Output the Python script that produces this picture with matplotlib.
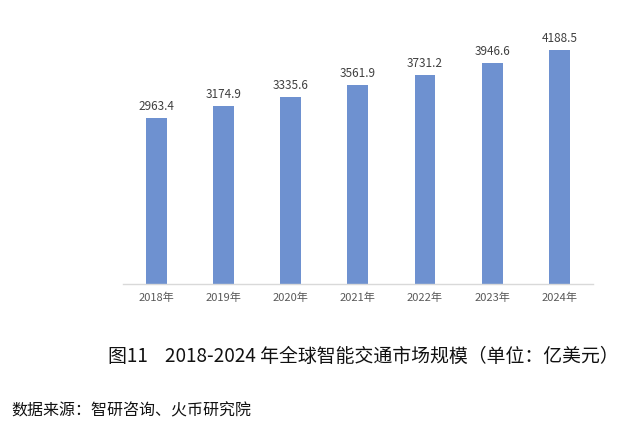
import matplotlib
matplotlib.use("Agg")
import matplotlib.pyplot as plt

plt.rcParams['font.family'] = ['Noto Sans CJK SC', 'DejaVu Sans']

years = ["2018年", "2019年", "2020年", "2021年", "2022年", "2023年", "2024年"]
values = [2963.4, 3174.9, 3335.6, 3561.9, 3731.2, 3946.6, 4188.5]
caption = "图11    2018-2024 年全球智能交通市场规模（单位：亿美元）"
source = "数据来源：智研咨询、火币研究院"

fig = plt.figure(figsize=(6.3, 4.28), dpi=100)
ax = fig.add_axes([0.195, 0.336, 0.746, 0.589])

x = list(range(len(years)))
ax.bar(x, values, width=0.31, color="#6E91D0", zorder=2)
for xi, v in zip(x, values):
    ax.text(xi, v + 90, f"{v:.1f}", ha="center", va="bottom", fontsize=8.5, color="#404040")

ax.set_xlim(-0.5, len(years) - 0.5)
ax.set_ylim(0, 4500)
ax.set_xticks(x)
ax.set_xticklabels(years, fontsize=8, color="#595959")
ax.tick_params(axis="x", length=0, pad=6)
ax.set_yticks([])
for s in ["top", "right", "left"]:
    ax.spines[s].set_visible(False)
ax.spines["bottom"].set_color("#D9D9D9")
ax.spines["bottom"].set_linewidth(1.0)

fig.text(0.172, 0.166, caption, fontsize=13.6, color="#111111", va="center", ha="left")
fig.text(0.018, 0.04, source, fontsize=11.5, color="#111111", va="center", ha="left")

fig.savefig("out.png", dpi=100)
